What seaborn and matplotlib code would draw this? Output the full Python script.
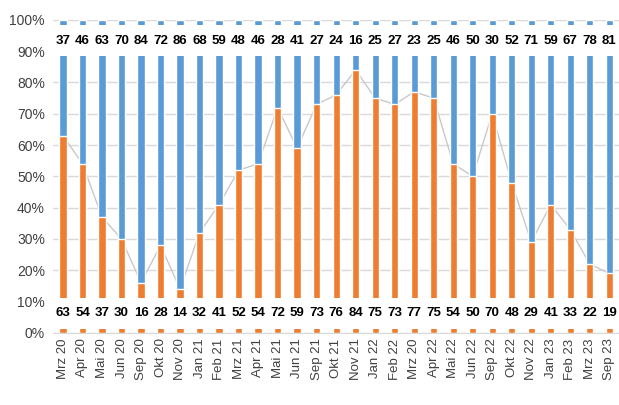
import numpy as np
import pandas as pd
import seaborn as sns
import matplotlib
matplotlib.use("Agg")
import matplotlib.pyplot as plt
import matplotlib.ticker as mtick

months = ["Mrz 20", "Apr 20", "Mai 20", "Jun 20", "Sep 20", "Okt 20", "Nov 20",
          "Jan 21", "Feb 21", "Mrz 21", "Apr 21", "Mai 21", "Jun 21", "Sep 21",
          "Okt 21", "Nov 21", "Jan 22", "Feb 22", "Mrz 20", "Apr 22", "Mai 22",
          "Jun 22", "Sep 22", "Okt 22", "Nov 22", "Jan 23", "Feb 23", "Mrz 23",
          "Sep 23"]
orange_vals = [63, 54, 37, 30, 16, 28, 14, 32, 41, 52, 54, 72, 59, 73, 76, 84,
               75, 73, 77, 75, 54, 50, 70, 48, 29, 41, 33, 22, 19]
blue_vals = [37, 46, 63, 70, 84, 72, 86, 68, 59, 48, 46, 28, 41, 27, 24, 16,
             25, 27, 23, 25, 46, 50, 30, 52, 71, 59, 67, 78, 81]

ORANGE = "#ED7D31"
BLUE = "#5B9BD5"

df = pd.DataFrame({"pos": range(len(months)), "orange": orange_vals, "blue": blue_vals})
df["total"] = df["orange"] + df["blue"]

sns.set_style("white")
plt.rcParams["font.family"] = ["Liberation Sans", "DejaVu Sans"]

fig = plt.figure(figsize=(6.19, 4.05), dpi=100)
ax = fig.add_axes([0.086, 0.178, 0.914, 0.773])

# gray connecting line sits behind the bars
ax.plot(df["pos"], df["orange"], color="#C8C8C8", lw=1.0, zorder=1)

sns.barplot(data=df, x="pos", y="total", color=BLUE, width=0.37,
            saturation=1, ax=ax, zorder=2)
sns.barplot(data=df, x="pos", y="orange", color=ORANGE, width=0.37,
            saturation=1, ax=ax, zorder=3)

# white label bands
ax.axhspan(1.2, 11.0, color="white", zorder=4, lw=0)
ax.axhspan(88.3, 98.4, color="white", zorder=4, lw=0)

for i, (o, b) in enumerate(zip(orange_vals, blue_vals)):
    ax.text(i, 6.3, str(o), ha="center", va="center", fontsize=9.5,
            fontweight="bold", color="black", zorder=5)
    ax.text(i, 93.3, str(b), ha="center", va="center", fontsize=9.5,
            fontweight="bold", color="black", zorder=5)

ax.set_ylim(0, 100)
ax.set_xlim(-0.5, len(months) - 0.5)
ax.set_yticks(np.arange(0, 101, 10))
ax.yaxis.set_major_formatter(mtick.PercentFormatter(100, decimals=0))
ax.yaxis.grid(True, color="#D9D9D9", lw=1, zorder=0)
ax.set_axisbelow(True)
ax.set_xticks(range(len(months)))
ax.set_xticklabels(months, rotation=90, fontsize=9.5, color="#404040")
ax.tick_params(axis="y", labelsize=10, colors="#404040", length=0, pad=6)
ax.tick_params(axis="x", length=0, pad=4)
ax.set_xlabel("")
ax.set_ylabel("")
for s in ["top", "right", "left"]:
    ax.spines[s].set_visible(False)
ax.spines["bottom"].set_color("#D9D9D9")

fig.savefig("out.png", dpi=100)
